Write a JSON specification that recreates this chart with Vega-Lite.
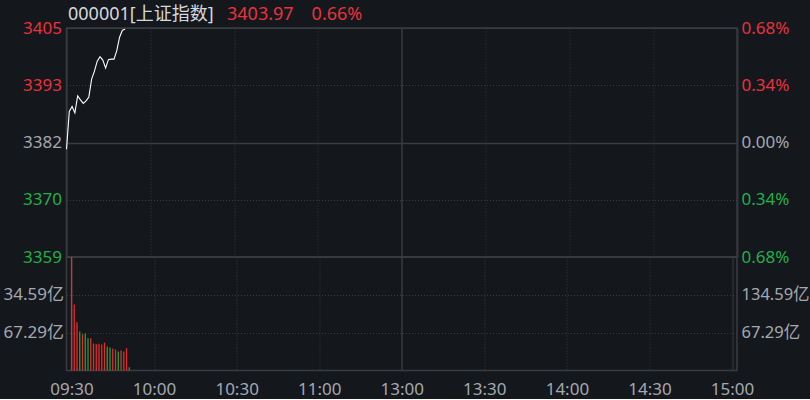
{
  "$schema": "https://vega.github.io/schema/vega-lite/v6.json",
  "background": "#14171c",
  "padding": {"left": 1.5, "top": 4, "right": 0, "bottom": 0},
  "bounds": "flush",
  "spacing": 0,
  "config": {
    "view": {"stroke": "#3a3c41", "strokeWidth": 1.5},
    "font": "Noto Sans, Noto Sans CJK SC",
    "axis": {
      "labelFont": "Noto Sans, Noto Sans CJK SC",
      "labelFontSize": 17,
      "labelColor": "#a4a9b0",
      "ticks": false,
      "domain": false,
      "labelFlush": false,
      "labelOverlap": false,
      "gridColor": "#383b40",
      "titleFont": "Noto Sans, Noto Sans CJK SC"
    }
  },
  "datasets": {
    "price": [
      {"m": 0, "p": 3380.3}, {"m": 1, "p": 3387.9}, {"m": 2, "p": 3388.9}, {"m": 3, "p": 3387.6},
      {"m": 4, "p": 3391.0}, {"m": 5, "p": 3390.2}, {"m": 6, "p": 3389.5}, {"m": 7, "p": 3390.0},
      {"m": 8, "p": 3390.8}, {"m": 9, "p": 3394.4}, {"m": 10, "p": 3396.0}, {"m": 11, "p": 3398.0},
      {"m": 12, "p": 3398.9}, {"m": 13, "p": 3398.2}, {"m": 14, "p": 3396.6}, {"m": 15, "p": 3398.3},
      {"m": 16, "p": 3398.4}, {"m": 17, "p": 3398.4}, {"m": 18, "p": 3400.1}, {"m": 19, "p": 3402.8},
      {"m": 20, "p": 3404.2}, {"m": 21, "p": 3404.4}
    ],
    "vol": [
      {"m": 0, "v": 201.87, "d": "up"}, {"m": 1, "v": 117.4, "d": "up"}, {"m": 2, "v": 85.9, "d": "up"},
      {"m": 3, "v": 69.4, "d": "down"}, {"m": 4, "v": 64.6, "d": "up"}, {"m": 5, "v": 65.8, "d": "down"},
      {"m": 6, "v": 57.4, "d": "down"}, {"m": 7, "v": 57.4, "d": "up"}, {"m": 8, "v": 48.0, "d": "up"},
      {"m": 9, "v": 46.8, "d": "up"}, {"m": 10, "v": 47.5, "d": "up"}, {"m": 11, "v": 46.2, "d": "up"},
      {"m": 12, "v": 49.8, "d": "up"}, {"m": 13, "v": 42.7, "d": "down"}, {"m": 14, "v": 40.9, "d": "down"},
      {"m": 15, "v": 39.1, "d": "up"}, {"m": 16, "v": 37.4, "d": "up"}, {"m": 17, "v": 33.8, "d": "down"},
      {"m": 18, "v": 35.6, "d": "up"}, {"m": 19, "v": 33.8, "d": "up"}, {"m": 20, "v": 39.7, "d": "up"},
      {"m": 21, "v": 5.9, "d": "down"}
    ]
  },
  "vconcat": [
    {
      "width": 670.5,
      "height": 229,
      "layer": [
        {
          "data": {"name": "price"},
          "mark": {"type": "line", "color": "#ffffff", "strokeWidth": 1.1},
          "encoding": {
            "x": {
              "field": "m", "type": "quantitative",
              "scale": {"domain": [0, 240], "nice": false, "zero": false},
              "axis": {
                "orient": "top",
                "values": [0, 30, 60, 90, 120, 150, 180, 210, 240],
                "labels": false,
                "grid": true,
                "gridDash": {"expr": "datum.value == 120 || datum.value == 0 || datum.value == 240 ? [] : [1, 2]"},
                "gridWidth": {"expr": "datum.value == 120 ? 1.5 : 1"},
                "title": "3403.97\u2002\u20020.66%",
                "titleColor": "#e8323c",
                "titleFontSize": 18,
                "titleFontWeight": "normal",
                "titleAlign": "left",
                "titleAnchor": "start",
                "titleBaseline": "alphabetic",
                "titleX": 160,
                "titleY": -9
              }
            },
            "y": {
              "field": "p", "type": "quantitative",
              "scale": {"domain": [3358.65, 3404.65], "nice": false, "zero": false},
              "axis": {
                "orient": "left",
                "values": [3358.65, 3370.15, 3381.65, 3393.15, 3404.65],
                "format": "d",
                "title": null,
                "grid": true,
                "gridDash": {"expr": "(datum.value > 3381 && datum.value < 3382) || datum.value > 3404 || datum.value < 3359 ? [] : [1, 2]"},
                "gridWidth": {"expr": "(datum.value > 3381 && datum.value < 3382) ? 1.5 : 1"},
                "labelColor": {"expr": "datum.value > 3382 ? '#e8323c' : datum.value < 3381 ? '#1fb04a' : '#a4a9b0'"},
                "labelBaseline": "middle",
                "labelPadding": 5
              }
            }
          }
        },
        {
          "data": {"name": "price"},
          "mark": {"type": "line", "strokeOpacity": 0},
          "encoding": {
            "x": {
              "field": "m", "type": "quantitative",
              "scale": {"domain": [0, 240], "nice": false, "zero": false},
              "axis": {
                "orient": "top",
                "values": [0],
                "labels": false,
                "grid": false,
                "title": "000001[上证指数]",
                "titleColor": "#d5d9de",
                "titleFontSize": 18,
                "titleFontWeight": "normal",
                "titleAlign": "left",
                "titleAnchor": "start",
                "titleBaseline": "alphabetic",
                "titleX": 1,
                "titleY": -9
              }
            },
            "y": {
              "field": "p", "type": "quantitative",
              "scale": {"domain": [3358.65, 3404.65], "nice": false, "zero": false},
              "axis": {
                "orient": "right",
                "values": [3358.65, 3370.15, 3381.65, 3393.15, 3404.65],
                "labelExpr": "format(abs(datum.value - 3381.65) / 3381.65 * 100, '.2f') + '%'",
                "title": null,
                "grid": false,
                "labelColor": {"expr": "datum.value > 3382 ? '#e8323c' : datum.value < 3381 ? '#1fb04a' : '#a4a9b0'"},
                "labelBaseline": "middle",
                "labelPadding": 4
              }
            }
          }
        }
      ],
      "resolve": {"scale": {"y": "independent"}, "axis": {"x": "independent"}}
    },
    {
      "width": 670.5,
      "height": 113.5,
      "layer": [
        {
          "data": {"name": "vol"},
          "mark": {"type": "bar", "orient": "vertical", "size": 1.3},
          "encoding": {
            "x": {
              "field": "m", "type": "quantitative",
              "scale": {"domain": [0, 240], "nice": false, "zero": false},
              "axis": {
                "orient": "bottom",
                "values": [0, 30, 60, 90, 120, 150, 180, 210, 240],
                "labelExpr": "['09:30','10:00','10:30','11:00','13:00','13:30','14:00','14:30','15:00'][datum.value / 30]",
                "title": null,
                "grid": true,
                "gridDash": {"expr": "datum.value == 120 || datum.value == 0 || datum.value == 240 ? [] : [1, 2]"},
                "gridWidth": {"expr": "datum.value == 120 ? 1.5 : 1"},
                "labelPadding": 11
              }
            },
            "y": {
              "field": "v", "type": "quantitative",
              "scale": {"domain": [0, 201.87], "nice": false},
              "axis": {
                "orient": "left",
                "values": [67.29, 134.59],
                "labelExpr": "datum.value > 100 ? '34.59亿' : '67.29亿'",
                "title": null,
                "grid": true,
                "gridDash": [1, 2],
                "labelBaseline": "middle",
                "labelPadding": 3
              }
            },
            "color": {
              "field": "d", "type": "nominal",
              "scale": {"domain": ["up", "down"], "range": ["#e62a2a", "#12a838"]},
              "legend": null
            }
          }
        },
        {
          "data": {"name": "vol"},
          "mark": {"type": "bar", "orient": "vertical", "size": 1.3, "opacity": 0},
          "encoding": {
            "x": {"field": "m", "type": "quantitative", "scale": {"domain": [0, 240], "nice": false, "zero": false}},
            "y": {
              "field": "v", "type": "quantitative",
              "scale": {"domain": [0, 201.87], "nice": false},
              "axis": {
                "orient": "right",
                "values": [67.29, 134.59],
                "labelExpr": "format(datum.value, '.2f') + '亿'",
                "title": null,
                "grid": false,
                "labelBaseline": "middle",
                "labelPadding": 4,
                "labelFontSize": 16.5
              }
            }
          }
        }
      ],
      "resolve": {"scale": {"y": "independent"}}
    }
  ]
}
